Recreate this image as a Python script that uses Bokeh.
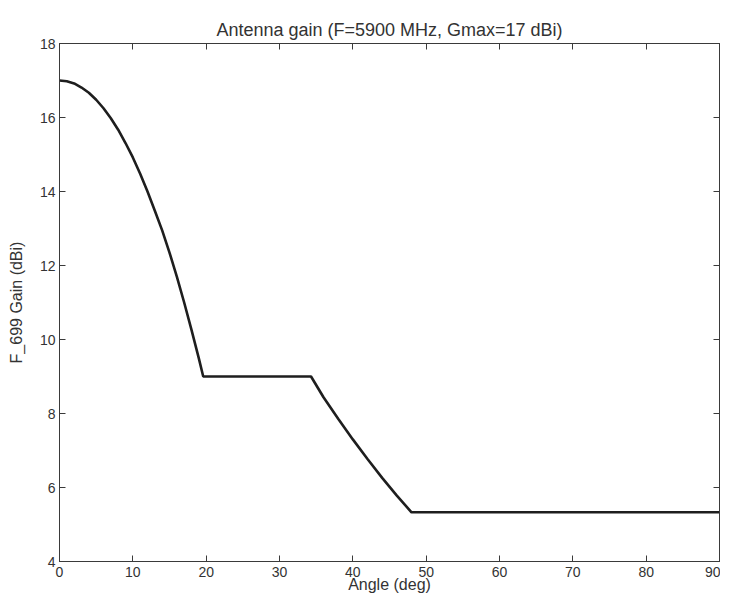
from bokeh.plotting import figure
from bokeh.models import LinearAxis, FixedTicker, Range1d, CustomJSTickFormatter
from bokeh.embed import file_html
from bokeh.resources import INLINE

# Data
angle_deg = [0, 1, 2, 3, 4, 5, 6, 7, 8, 9, 10, 11, 12, 13, 14, 15, 16, 17, 18, 19, 19.6,
             34.3, 36, 38, 40, 42, 44, 46, 48, 90]
gain_dbi = [17.00, 16.98, 16.92, 16.81, 16.67, 16.48, 16.25, 15.98, 15.67, 15.31, 14.92,
            14.48, 14.00, 13.48, 12.95, 12.35, 11.70, 11.00, 10.26, 9.49, 9.00,
            9.00, 8.44, 7.86, 7.30, 6.77, 6.26, 5.78, 5.33, 5.33]

x_ticks = [0, 10, 20, 30, 40, 50, 60, 70, 80, 90]
y_ticks = [4, 6, 8, 10, 12, 14, 16, 18]

FONT = "Liberation Sans"
TXT = "#333333"
LN = "#3a3a3a"

p = figure(width=720, height=596, output_backend="svg", toolbar_location=None,
           x_range=Range1d(0, 90), y_range=Range1d(4, 18),
           title="Antenna gain (F=5900 MHz, Gmax=17 dBi)",
           min_border_left=59, min_border_right=1, min_border_top=43, min_border_bottom=35)

p.title.align = "center"
p.title.text_font = FONT
p.title.text_font_size = "18px"
p.title.text_font_style = "normal"
p.title.text_color = TXT
p.title.offset = 0
p.title.standoff = 8

p.grid.visible = False
p.outline_line_color = LN
p.outline_line_width = 1
p.background_fill_color = "white"
p.border_fill_color = "white"

def style_axis(ax, show_labels=True):
    ax.axis_line_color = LN
    ax.major_tick_line_color = LN
    ax.major_tick_in = 6
    ax.major_tick_out = 0
    ax.minor_tick_in = 0
    ax.minor_tick_out = 0
    ax.major_label_text_font = FONT
    ax.major_label_text_color = TXT
    ax.major_label_text_font_size = "14px"
    if not show_labels:
        ax.formatter = CustomJSTickFormatter(code="return '';")
        ax.major_label_standoff = 0

xa = p.xaxis[0]
ya = p.yaxis[0]
xa.ticker = FixedTicker(ticks=x_ticks)
ya.ticker = FixedTicker(ticks=y_ticks)
style_axis(xa)
style_axis(ya)
xa.major_label_standoff = 5
ya.major_label_standoff = 4
xa.axis_label = "Angle (deg)"
ya.axis_label = "F_699 Gain (dBi)"
for ax in (xa, ya):
    ax.axis_label_text_font = FONT
    ax.axis_label_text_font_size = "16px"
    ax.axis_label_text_font_style = "normal"
    ax.axis_label_text_color = TXT
xa.axis_label_standoff = -4
ya.axis_label_standoff = 12

top = LinearAxis(ticker=FixedTicker(ticks=x_ticks))
right = LinearAxis(ticker=FixedTicker(ticks=y_ticks))
style_axis(top, False)
style_axis(right, False)
p.add_layout(top, "above")
p.add_layout(right, "right")

p.line(angle_deg, gain_dbi, line_color="#1e1e1e", line_width=2.6)

open("out.html", "w").write(file_html(p, INLINE))
